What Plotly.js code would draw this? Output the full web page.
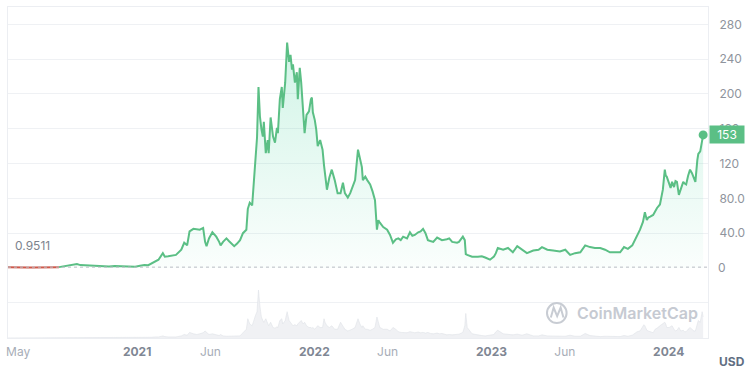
<!DOCTYPE html>
<html>
<head>
<meta charset="utf-8">
<script src="https://cdn.plot.ly/plotly-3.0.1.min.js"></script>
<style>html,body{margin:0;padding:0;background:#fff;}#chart{width:750px;height:374px;}</style>
</head>
<body>
<div id="chart"></div>
<script>
// ---- data ----
const startPrice = 0.9511;

const priceDates = [
  '2020-04-10','2020-04-17','2020-04-25','2020-05-03','2020-05-12','2020-05-22','2020-06-01','2020-06-10','2020-06-20','2020-06-30','2020-07-10','2020-07-18','2020-07-24',
  '2020-07-31','2020-08-06','2020-08-12','2020-08-20','2020-08-30','2020-09-06','2020-09-14','2020-09-22','2020-10-02','2020-10-12','2020-10-24','2020-11-04','2020-11-16','2020-11-26','2020-12-06','2020-12-18','2020-12-28',
  '2021-01-07','2021-01-16','2021-01-24','2021-01-31','2021-02-07','2021-02-14','2021-02-23','2021-02-27','2021-03-06','2021-03-14','2021-03-22',
  '2021-04-02','2021-04-08','2021-04-14','2021-04-19','2021-04-27','2021-05-04','2021-05-10','2021-05-17','2021-05-21','2021-05-24','2021-05-29','2021-06-05','2021-06-13','2021-06-19','2021-06-22','2021-06-27','2021-07-04','2021-07-09','2021-07-14','2021-07-20','2021-07-26',
  '2021-08-01','2021-08-07','2021-08-14','2021-08-17','2021-08-21','2021-08-26','2021-08-29','2021-09-02','2021-09-05','2021-09-08','2021-09-11','2021-09-14','2021-09-17','2021-09-19','2021-09-23','2021-09-27','2021-09-29',
  '2021-10-03','2021-10-08','2021-10-12','2021-10-16','2021-10-18','2021-10-22','2021-10-26','2021-10-28','2021-11-02','2021-11-06','2021-11-10','2021-11-13','2021-11-16','2021-11-18','2021-11-22','2021-11-26','2021-11-28','2021-12-02','2021-12-05','2021-12-09','2021-12-12','2021-12-16','2021-12-21','2021-12-25','2021-12-27','2021-12-29',
  '2022-01-02','2022-01-05','2022-01-08','2022-01-13','2022-01-18','2022-01-21','2022-01-23','2022-01-27','2022-02-01','2022-02-06','2022-02-12','2022-02-16','2022-02-18','2022-02-24','2022-03-01','2022-03-05','2022-03-11','2022-03-16','2022-03-20','2022-03-26','2022-04-01','2022-04-05','2022-04-09','2022-04-11','2022-04-16','2022-04-20','2022-04-26',
  '2022-05-01','2022-05-06','2022-05-10','2022-05-13','2022-05-16','2022-05-23','2022-05-31','2022-06-06','2022-06-12','2022-06-18','2022-06-23','2022-06-28','2022-07-03','2022-07-11','2022-07-17','2022-07-22','2022-07-27','2022-08-03','2022-08-08','2022-08-13','2022-08-18','2022-08-23','2022-08-28',
  '2022-09-03','2022-09-11','2022-09-16','2022-09-21','2022-10-01','2022-10-06','2022-10-12','2022-10-22','2022-10-26','2022-11-03','2022-11-07','2022-11-09','2022-11-12','2022-11-22','2022-12-04','2022-12-12','2022-12-19','2022-12-29',
  '2023-01-06','2023-01-10','2023-01-14','2023-01-25','2023-02-04','2023-02-14','2023-02-23','2023-03-05','2023-03-15','2023-03-28','2023-04-08','2023-04-15','2023-04-26','2023-05-08','2023-05-22','2023-06-02','2023-06-12','2023-06-22',
  '2023-07-03','2023-07-13','2023-07-23','2023-08-02','2023-08-13','2023-08-23','2023-09-02','2023-09-13','2023-09-23','2023-10-01','2023-10-09','2023-10-18','2023-10-24','2023-10-28',
  '2023-11-03','2023-11-09','2023-11-11','2023-11-13','2023-11-17','2023-11-20','2023-11-24','2023-11-30','2023-12-04','2023-12-08','2023-12-14','2023-12-20','2023-12-24','2023-12-26','2023-12-28',
  '2024-01-02','2024-01-05','2024-01-08','2024-01-12','2024-01-15','2024-01-18','2024-01-22','2024-01-26','2024-01-31','2024-02-03','2024-02-06','2024-02-10','2024-02-14','2024-02-18','2024-02-22','2024-02-25','2024-02-29','2024-03-02','2024-03-06','2024-03-10','2024-03-12'
];

const prices = [
  0.9511,0.78,0.66,0.62,0.58,0.62,0.66,0.72,0.78,0.85,0.82,0.9,0.96,
  1.6,2.4,3.2,3.6,4.6,3.3,3.0,2.7,2.6,2.2,1.8,1.7,2.3,2.1,1.9,1.6,1.5,
  2.6,3.4,3.2,5.5,7.5,9.5,17,13,13.5,14,15,
  21,29,26,42,45,44,44,46,30,25,34,41,36,30,26,30,34,31,28,25,28,
  32,40,44,68,75,72,93,125,150,208,174,160,151,168,132,147,132,
  173,151,144,161,155,194,208,184,213,259,237,245,228,234,213,225,194,230,213,185,155,176,180,194,196,179,
  170,159,140,147,136,118,109,90,104,113,101,92,86,86,98,86,81,86,92,101,136,125,116,101,105,101,96,
  88,78,44,55,52,47,44,38,29,33,34,32,36,34,41,37,38,41,42,45,40,32,31,
  30,35,33,32,33,34,30,29,30,36,32,16,15,13,13,13.5,12,9.5,
  13,17,23,21,23,18,25,21,17,20,21,24,21,20,19,21,15,17,
  18,26,24,23,23,21,18,18,18,24,22,26,33,38,
  44,53,60,64,55,58,59,61,65,69,73,90,113,106,105,
  98,92,99,93,100,99,84,91,99,97,96,106,113,109,104,99,124,131,134,144,153
];

// trading volume (billions USD, estimated from the grey bars)
const volumes = [
  0.01,0.01,0.01,0.01,0.01,0.01,0.01,0.01,0.01,0.01,0.01,0.01,0.02,
  0.05,0.08,0.1,0.1,0.15,0.1,0.08,0.06,0.05,0.05,0.04,0.04,0.05,0.05,0.04,0.04,0.04,
  0.1,0.12,0.1,0.2,0.3,0.3,0.6,0.4,0.3,0.3,0.3,
  0.6,1.0,0.8,1.6,1.2,1.0,1.2,1.5,2.0,1.6,1.0,1.2,0.8,0.7,1.0,0.6,0.5,0.5,0.4,0.5,0.5,
  0.6,1.5,2.5,5.5,4,3.5,5,6.5,7.5,13.7,9,6,5,4.5,5.5,4,3.5,
  4.5,3,2.8,3.2,3,5,5.5,4,5,7.5,5,4.5,4,3.5,3.8,3.5,4,4.5,5,4,4.5,3.5,3,3,2.8,3,
  2.5,3,3.5,3,3,5.5,4.5,3.5,3,3.5,2.5,2.5,2.5,4.5,3.5,2.5,2,2.2,2.5,3,5.5,4,3,3.5,2.5,2.5,2.2,
  2.5,3,6,4.5,3,2.5,2.5,2,3,2.5,1.8,1.6,1.5,1.5,1.8,1.6,1.5,1.7,1.5,1.6,1.4,1.6,1.3,
  1.2,1.4,1.2,1.3,0.9,1.0,0.9,1.0,1.1,1.6,3.5,7,3,1.2,0.8,0.7,0.6,0.8,
  1.0,1.8,2.2,1.2,1.0,0.9,1.1,0.8,1.2,0.6,0.6,0.9,0.6,0.5,0.4,0.5,0.8,0.5,
  0.5,1.3,0.7,0.5,0.4,0.5,0.4,0.5,0.4,0.7,0.5,0.8,1.5,1.8,
  2,3.2,3.8,3.5,2.2,2,1.8,1.5,2.5,2.8,3.5,4,4.5,4,3,
  3,3.2,3.5,2.5,2,2.2,3,2,2.2,1.8,1.8,2.5,3,2.5,2,2,4.5,5,4.5,7.5,6
];

const xTickDates = ['2020-05-01','2021-01-01','2021-06-01','2022-01-01','2022-06-01','2023-01-01','2023-06-01','2024-01-01'];
const xTickLabels = ['May','2021','Jun','2022','Jun','2023','Jun','2024'];
const yTickValues = [40,80,120,160,200,240,280];
const yTickLabels = ['40.0','80.0','120','160','200','240','280'];

// ---- build ----
const GREEN = '#5bbf85';
const RED = '#cf5a4c';
let cross = prices.findIndex((p, i) => i > 0 && p >= startPrice);
if (cross < 0) cross = prices.length - 1;
const last = prices.length - 1;

const redTrace = {
  x: priceDates.slice(0, cross + 1), y: prices.slice(0, cross + 1),
  type: 'scatter', mode: 'lines', line: {color: RED, width: 2}, hoverinfo: 'skip'
};
const greenTrace = {
  x: priceDates.slice(cross), y: prices.slice(cross),
  type: 'scatter', mode: 'lines', line: {color: GREEN, width: 2, shape: 'linear'},
  fill: 'tozeroy',
  fillgradient: {type: 'vertical', start: 0, stop: 260,
    colorscale: [[0, 'rgba(22,199,132,0.02)'], [1, 'rgba(22,199,132,0.20)']]},
  hoverinfo: 'skip'
};
const endDot = {
  x: [priceDates[last]], y: [prices[last]], type: 'scatter', mode: 'markers',
  marker: {color: GREEN, size: 9}, hoverinfo: 'skip'
};
const volTrace = {
  x: priceDates, y: volumes, type: 'scatter', mode: 'lines', yaxis: 'y2',
  line: {color: '#dfe2e7', width: 0.6}, fill: 'tozeroy', fillcolor: '#f0f1f4', hoverinfo: 'skip'
};

const xTickText = xTickLabels.map(t => /^\d{4}$/.test(t)
  ? '<b><span style="color:#7f8794">' + t + '</span></b>' : t);

const layout = {
  width: 750, height: 374,
  margin: {l: 8, r: 42, t: 7, b: 36, pad: 0},
  paper_bgcolor: '#ffffff', plot_bgcolor: '#ffffff',
  showlegend: false,
  font: {family: 'Inter, Roboto, sans-serif', size: 12, color: '#9ba1ab'},
  xaxis: {
    type: 'date', range: ['2020-04-10', '2024-03-22'],
    tickvals: xTickDates, ticktext: xTickText, ticks: '',
    tickfont: {size: 12, color: '#a7adb7'}, ticklabelstandoff: 3,
    showgrid: false, zeroline: false,
    showline: true, linecolor: '#eceef2', linewidth: 1, mirror: true, fixedrange: true
  },
  yaxis: {
    domain: [0, 1], range: [-80.5, 300], side: 'right',
    tickvals: yTickValues, ticktext: yTickLabels, ticks: '',
    tickfont: {size: 12, color: '#8f949d'}, ticklabelstandoff: 8,
    gridcolor: '#eff1f4', gridwidth: 1, zeroline: false,
    showline: true, linecolor: '#eceef2', linewidth: 1, mirror: true, fixedrange: true
  },
  yaxis2: {
    domain: [0, 0.2], range: [0, 18.9], anchor: 'x',
    tickvals: [10], showticklabels: false, ticks: '',
    gridcolor: '#eff1f4', zeroline: false, showline: false, fixedrange: true
  },
  shapes: [
    {type: 'line', xref: 'paper', x0: 0, x1: 1, yref: 'y', y0: startPrice, y1: startPrice,
     line: {color: '#b9bdc4', width: 1, dash: 'dot'}, layer: 'above'},
    {type: 'circle', xref: 'paper', yref: 'paper', x0: 0.770, x1: 0.798, y0: 0.0453, y1: 0.1057,
     line: {color: '#c8ccd3', width: 2}},
    {type: 'path', xref: 'paper', yref: 'paper',
     path: 'M 0.7755 0.062 L 0.7795 0.092 L 0.7845 0.066 L 0.7895 0.092 L 0.7935 0.062',
     line: {color: '#c8ccd3', width: 2}}
  ],
  annotations: [
    {xref: 'paper', yref: 'y', x: 0.007, y: startPrice, xanchor: 'left', yanchor: 'bottom', yshift: 12,
     text: String(startPrice), showarrow: false, font: {size: 12, color: '#7d838d'}},
    {xref: 'paper', yref: 'y', x: 1, y: 0, xanchor: 'left', xshift: 8, yanchor: 'middle',
     text: '0', showarrow: false, font: {size: 12, color: '#8f949d'}},
    {xref: 'paper', yref: 'y', x: 1, y: prices[last], xanchor: 'left', xshift: 1, yanchor: 'middle',
     text: String(prices[last]), showarrow: false, bgcolor: GREEN, width: 32, height: 15, borderpad: 1,
     font: {size: 12, color: '#ffffff'}},
    {xref: 'paper', yref: 'paper', x: 1.013, y: -0.072, xanchor: 'left', yanchor: 'middle',
     text: '<b>USD</b>', showarrow: false, font: {size: 12, color: '#616e82'}},
    {xref: 'paper', yref: 'paper', x: 0.81, y: 0.0755, xanchor: 'left', yanchor: 'middle',
     text: 'CoinMarketCap', showarrow: false, font: {size: 16, color: '#c6cad2', family: 'Inter, Roboto, sans-serif', weight: 600}}
  ]
};

Plotly.newPlot('chart', [volTrace, redTrace, greenTrace, endDot], layout, {displayModeBar: false, staticPlot: true});
</script>
</body>
</html>
